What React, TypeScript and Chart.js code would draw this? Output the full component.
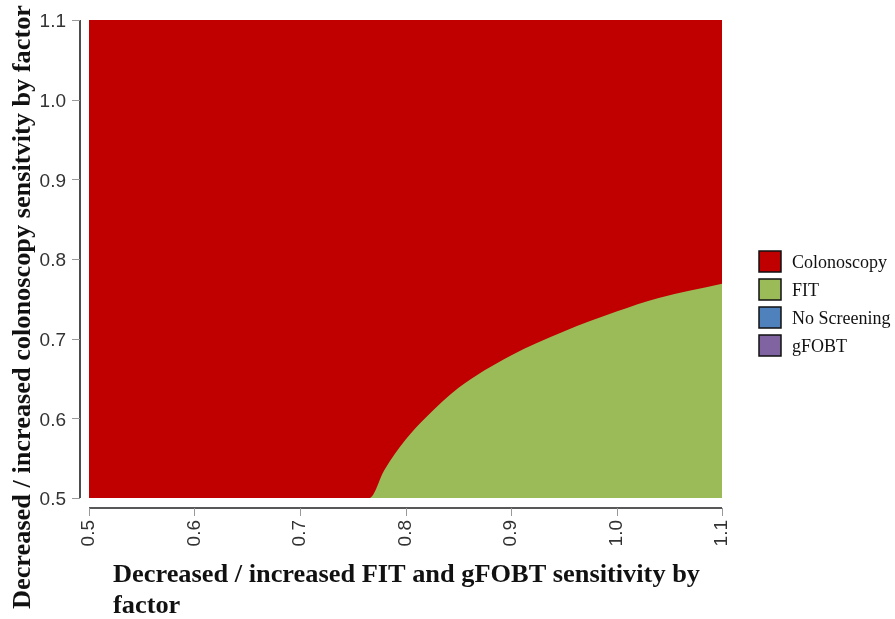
import React, { useEffect, useRef } from 'react';
import { Chart, registerables } from 'chart.js';

Chart.register(...registerables);

// FIT / gFOBT sensitivity factor (x) and the colonoscopy sensitivity factor (y)
// at which the optimal strategy switches from Colonoscopy (above) to FIT (below)
const FIT_SENS_FACTOR = [0.5, 0.766, 0.78, 0.8, 0.82, 0.85, 0.9, 0.95, 1.0, 1.04, 1.1];
const COLON_BOUNDARY = [0.5, 0.5, 0.535, 0.573, 0.602, 0.638, 0.679, 0.709, 0.734, 0.751, 0.769];

const X_TICKS = [0.5, 0.6, 0.7, 0.8, 0.9, 1.0, 1.1];
const Y_TICKS = [0.5, 0.6, 0.7, 0.8, 0.9, 1.0, 1.1];

const LEGEND_LABELS = ['Colonoscopy', 'FIT', 'No Screening', 'gFOBT'];
const LEGEND_COLORS = ['#C00000', '#9BBB59', '#4F81BD', '#8064A2'];

const X_TITLE = ['Decreased / increased FIT and gFOBT sensitivity by', 'factor'];
const Y_TITLE = 'Decreased / increased colonoscopy sensitvity by factor';

const W = 895;
const H = 619;

const rStylePlugin = {
  id: 'rStyle',
  afterDraw(chart: any) {
    const { ctx, chartArea: a, scales } = chart;
    const xs = scales.x;
    const ys = scales.y;
    ctx.save();

    // R-style offset axes
    const yAxisX = a.left - 9;
    const xAxisY = a.bottom + 10;
    ctx.strokeStyle = '#222';
    ctx.lineWidth = 1.6;
    ctx.beginPath();
    ctx.moveTo(yAxisX, ys.getPixelForValue(Y_TICKS[0]));
    ctx.lineTo(yAxisX, ys.getPixelForValue(Y_TICKS[Y_TICKS.length - 1]));
    ctx.moveTo(xs.getPixelForValue(X_TICKS[0]), xAxisY);
    ctx.lineTo(xs.getPixelForValue(X_TICKS[X_TICKS.length - 1]), xAxisY);
    ctx.stroke();

    ctx.strokeStyle = '#999';
    ctx.lineWidth = 1;
    ctx.beginPath();
    for (const v of Y_TICKS) {
      const py = Math.round(ys.getPixelForValue(v)) + 0.5;
      ctx.moveTo(yAxisX - 8, py);
      ctx.lineTo(yAxisX, py);
    }
    for (const v of X_TICKS) {
      const px = Math.round(xs.getPixelForValue(v)) + 0.5;
      ctx.moveTo(px, xAxisY);
      ctx.lineTo(px, xAxisY + 8);
    }
    ctx.stroke();

    // axis titles (condensed bold serif)
    ctx.fillStyle = '#111';
    ctx.font = 'bold 25px "Liberation Serif"';
    ctx.textAlign = 'left';
    ctx.textBaseline = 'alphabetic';
    const w1 = ctx.measureText(X_TITLE[0]).width;
    const sx = 587 / w1;
    ctx.save();
    ctx.translate(113, 582);
    ctx.scale(sx, 1);
    X_TITLE.forEach((line, i) => ctx.fillText(line, 0, i * 31));
    ctx.restore();

    const wy = ctx.measureText(Y_TITLE).width;
    const sy = 604 / wy;
    ctx.save();
    ctx.translate(30, 609);
    ctx.rotate(-Math.PI / 2);
    ctx.scale(sy, 1);
    ctx.fillText(Y_TITLE, 0, 0);
    ctx.restore();

    // legend
    ctx.font = '18px "Liberation Serif"';
    ctx.textBaseline = 'middle';
    LEGEND_LABELS.forEach((label, i) => {
      const top = 251 + i * 28;
      ctx.fillStyle = LEGEND_COLORS[i];
      ctx.fillRect(759, top, 22, 21);
      ctx.strokeStyle = '#111';
      ctx.lineWidth = 1.5;
      ctx.strokeRect(759, top, 22, 21);
      ctx.fillStyle = '#111';
      ctx.fillText(label, 792, top + 12);
    });

    ctx.restore();
  },
};

export default function App() {
  const ref = useRef<HTMLCanvasElement>(null);

  useEffect(() => {
    if (!ref.current) return;
    const boundary = FIT_SENS_FACTOR.map((x, i) => ({ x, y: COLON_BOUNDARY[i] }));
    const tickFont = { family: '"Liberation Sans", Arial, sans-serif', size: 19 };
    const chart = new Chart(ref.current, {
      type: 'line',
      data: {
        datasets: [
          {
            label: 'FIT',
            data: boundary,
            fill: 'start',
            backgroundColor: LEGEND_COLORS[1],
            borderWidth: 0,
            pointRadius: 0,
            cubicInterpolationMode: 'monotone',
            order: 1,
          },
          {
            label: 'Colonoscopy',
            data: boundary,
            fill: 'end',
            backgroundColor: LEGEND_COLORS[0],
            borderColor: LEGEND_COLORS[0],
            borderWidth: 2,
            pointRadius: 0,
            cubicInterpolationMode: 'monotone',
            order: 2,
          },
        ],
      },
      options: {
        responsive: false,
        animation: false,
        layout: { padding: { left: 0, top: 20, right: 173, bottom: 0 } },
        plugins: {
          legend: { display: false },
          tooltip: { enabled: false },
        },
        scales: {
          x: {
            type: 'linear',
            position: 'bottom',
            min: X_TICKS[0],
            max: X_TICKS[X_TICKS.length - 1],
            grid: { display: false, drawTicks: false },
            border: { display: false },
            afterBuildTicks: (s: any) => {
              s.ticks = X_TICKS.map((v) => ({ value: v }));
            },
            afterFit: (s: any) => {
              s.height = 121;
              s.paddingLeft = 0;
              s.paddingRight = 0;
              s.paddingTop = 0;
              s.paddingBottom = 0;
            },
            ticks: {
              font: tickFont,
              color: '#333',
              minRotation: 90,
              maxRotation: 90,
              padding: 22,
              callback: (v: any) => Number(v).toFixed(1),
            },
          },
          y: {
            type: 'linear',
            position: 'left',
            min: Y_TICKS[0],
            max: Y_TICKS[Y_TICKS.length - 1],
            grid: { display: false, drawTicks: false },
            border: { display: false },
            afterBuildTicks: (s: any) => {
              s.ticks = Y_TICKS.map((v) => ({ value: v }));
            },
            afterFit: (s: any) => {
              s.width = 89;
              s.paddingLeft = 0;
              s.paddingRight = 0;
              s.paddingTop = 0;
              s.paddingBottom = 0;
            },
            ticks: {
              font: tickFont,
              color: '#333',
              padding: 23,
              labelOffset: 2,
              callback: (v: any) => Number(v).toFixed(1),
            },
          },
        },
      },
      plugins: [rStylePlugin],
    });
    return () => chart.destroy();
  }, []);

  return (
    <div style={{ position: 'fixed', left: 0, top: 0, width: W, height: H, background: '#fff' }}>
      <canvas ref={ref} width={W} height={H} style={{ display: 'block' }} />
    </div>
  );
}
